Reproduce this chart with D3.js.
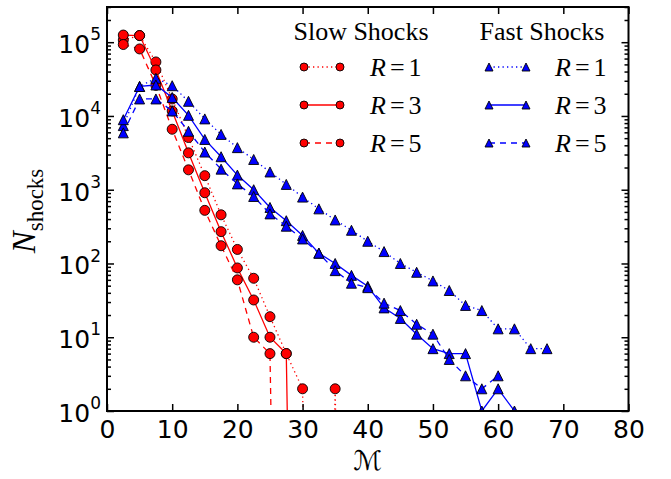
<!DOCTYPE html>
<html><head><meta charset="utf-8">
<script src="https://cdn.jsdelivr.net/npm/d3@7"></script>
<style>body{margin:0;background:#fff}svg{display:block}</style>
</head><body>
<svg id="chart" width="671" height="479"></svg>
<script>
// Mach-number bin centres
const machBins = [2.5, 5, 7.5, 10, 12.5, 15, 17.5, 20, 22.5, 25, 27.5, 30, 32.5, 35, 37.5,
                  40, 42.5, 45, 47.5, 50, 52.5, 55, 57.5, 60, 62.5, 65, 67.5];

// Shock counts per bin (slow shocks)
const slowR1 = [107000, 123000, 54000, 17000, 5100, 1550, 457, 155, 63, 19, 6, 2, 0, 2, 0];
const slowR3 = [125000, 123000, 42000, 11700, 3160, 910, 270, 87, 32, 10, 6, 0];
const slowR5 = [93000, 81000, 26000, 6600, 1860, 525, 174, 60, 10, 6, 0];

// Shock counts per bin (fast shocks)
const fastR1 = [7400, 25100, 32400, 25700, 15800, 9120, 5620, 3720, 2570, 1740, 1180, 794, 550,
                389, 282, 200, 145, 100, 76, 58, 43, 27, 23, 13, 13, 7, 7];
const fastR3 = [8900, 25100, 26300, 17800, 10200, 4800, 2800, 1580, 1000, 575, 380, 240, 138,
                100, 69, 49, 25, 18, 11, 7, 6, 6, 1, 2, 1];
const fastR5 = [5900, 17000, 17000, 11700, 6200, 3240, 1900, 1200, 810, 470, 320, 215, 138,
                80, 54, 47, 29, 23, 15, 11, 5, 3, 2, 3];

// Axis ticks
const xTicks = [0, 10, 20, 30, 40, 50, 60, 70, 80];
const yTicks = [1, 10, 100, 1000, 10000, 100000];
const yExponents = ["0", "1", "2", "3", "4", "5"];

const legendTitles = ["Slow Shocks", "Fast Shocks"];
const legendValues = ["1", "3", "5"];

const series = [
  {vals: slowR1, color: "#ff0000", dash: "1.3,3.2", marker: "circle", R: "1"},
  {vals: slowR3, color: "#ff0000", dash: null,      marker: "circle", R: "3"},
  {vals: slowR5, color: "#ff0000", dash: "6,5",     marker: "circle", R: "5"},
  {vals: fastR1, color: "#0000ff", dash: "1.3,3.2", marker: "tri",    R: "1"},
  {vals: fastR3, color: "#0000ff", dash: null,      marker: "tri",    R: "3"},
  {vals: fastR5, color: "#0000ff", dash: "6,5",     marker: "tri",    R: "5"}
];

const L = 107, R = 628.5, T = 7, B = 411;
const svg = d3.select("#chart");
const x = d3.scaleLinear().domain([0, 80]).range([L, R]);
const y = d3.scaleLog().domain([1, 3e5]).range([B, T]);
const FLOOR = 1e-12; // empty bins fall off the bottom of the log axis

svg.append("defs").append("clipPath").attr("id", "plotclip")
  .append("rect").attr("x", L).attr("y", T).attr("width", R - L).attr("height", B - T);

function markerShape(g, kind, cx, cy, s, color) {
  if (kind === "circle") {
    g.append("circle").attr("cx", cx).attr("cy", cy).attr("r", s / 2)
      .attr("fill", color).attr("stroke", "#000").attr("stroke-width", 0.9);
  } else {
    const h = s / 2;
    g.append("path")
      .attr("d", `M${cx},${cy - h}L${cx + h},${cy + h}L${cx - h},${cy + h}Z`)
      .attr("fill", color).attr("stroke", "#000").attr("stroke-width", 0.9)
      .attr("stroke-linejoin", "miter");
  }
}

// data
const plot = svg.append("g").attr("clip-path", "url(#plotclip)");
const line = d3.line()
  .x((d, i) => x(machBins[i]))
  .y(d => y(Math.max(d, FLOOR)));

series.forEach(s => {
  const g = plot.append("g");
  g.append("path").datum(s.vals).attr("d", line)
    .attr("fill", "none").attr("stroke", s.color).attr("stroke-width", 1.3)
    .attr("stroke-dasharray", s.dash);
  s.vals.forEach((v, i) => {
    if (v > 0) markerShape(g, s.marker, x(machBins[i]), y(v), 10, s.color);
  });
});

// axes (ticks point inward, on all four sides)
const tickFont = "DejaVu Sans, sans-serif";
function styleAxis(g) {
  g.select(".domain").remove();
  g.selectAll(".tick line").attr("stroke", "#000").attr("stroke-width", 1.5);
}
svg.append("g").attr("transform", `translate(0,${B})`)
  .call(d3.axisBottom(x).tickValues(xTicks).tickSizeInner(-7).tickSizeOuter(0).tickPadding(9))
  .call(styleAxis)
  .call(g => g.selectAll(".tick text").attr("font-family", tickFont).attr("font-size", 25)
    .attr("fill", "#000").attr("dy", "0.71em"));
svg.append("g").attr("transform", `translate(0,${T})`)
  .call(d3.axisTop(x).tickValues(xTicks).tickSizeInner(-7).tickSizeOuter(0).tickFormat(""))
  .call(styleAxis);

const minorY = [];
yTicks.forEach(t => { for (let k = 2; k <= 9; k++) if (t * k <= 3e5) minorY.push(t * k); });

const leftAx = svg.append("g").attr("transform", `translate(${L},0)`)
  .call(d3.axisLeft(y).tickValues(yTicks).tickSizeInner(-7).tickSizeOuter(0).tickPadding(6).tickFormat(""))
  .call(styleAxis);
leftAx.selectAll(".tick text").each(function(d, i) {
  const t = d3.select(this).attr("font-family", tickFont).attr("font-size", 25)
    .attr("fill", "#000").attr("dy", "0.42em");
  t.append("tspan").text("10");
  t.append("tspan").attr("font-size", 17).attr("dy", "-0.75em").text(yExponents[i]);
});
svg.append("g").attr("transform", `translate(${L},0)`)
  .call(d3.axisLeft(y).tickValues(minorY).tickSizeInner(-4).tickSizeOuter(0).tickFormat(""))
  .call(styleAxis);
svg.append("g").attr("transform", `translate(${R},0)`)
  .call(d3.axisRight(y).tickValues(yTicks).tickSizeInner(-7).tickSizeOuter(0).tickFormat(""))
  .call(styleAxis);
svg.append("g").attr("transform", `translate(${R},0)`)
  .call(d3.axisRight(y).tickValues(minorY).tickSizeInner(-4).tickSizeOuter(0).tickFormat(""))
  .call(styleAxis);

// frame
svg.append("rect").attr("x", L).attr("y", T).attr("width", R - L).attr("height", B - T)
  .attr("fill", "none").attr("stroke", "#000").attr("stroke-width", 2);

// axis titles
const serif = "Liberation Serif, DejaVu Serif, serif";
const yl = svg.append("text").attr("transform", "translate(35,211) rotate(-90)")
  .attr("text-anchor", "middle").attr("font-family", serif).attr("fill", "#000");
yl.append("tspan").attr("font-size", 33).attr("font-style", "italic").text("N");
yl.append("tspan").attr("font-size", 23).attr("dy", 8).text("shocks");

svg.append("text").attr("x", (L + R) / 2).attr("y", 470).attr("text-anchor", "middle")
  .attr("font-family", "DejaVu Serif, DejaVu Sans, serif").attr("font-size", 27)
  .attr("fill", "#000").text("\u2133");

// legend
const leg = svg.append("g");
const cols = [
  {title: legendTitles[0], cx: 361, m1: 304, m2: 340, lx: 370, items: series.slice(0, 3)},
  {title: legendTitles[1], cx: 542, m1: 489, m2: 526, lx: 555, items: series.slice(3, 6)}
];
const rowsY = [67, 105, 143];
cols.forEach(c => {
  leg.append("text").attr("x", c.cx).attr("y", 40).attr("text-anchor", "middle")
    .attr("font-family", serif).attr("font-size", 26).attr("fill", "#000").text(c.title);
  c.items.forEach((s, i) => {
    const ry = rowsY[i];
    leg.append("line").attr("x1", c.m1).attr("x2", c.m2).attr("y1", ry).attr("y2", ry)
      .attr("stroke", s.color).attr("stroke-width", 1.3).attr("stroke-dasharray", s.dash);
    markerShape(leg, s.marker, c.m1, ry, 8, s.color);
    markerShape(leg, s.marker, c.m2, ry, 8, s.color);
    const t = leg.append("text").attr("x", c.lx).attr("y", ry + 9)
      .attr("font-family", serif).attr("font-size", 26).attr("fill", "#000");
    t.append("tspan").attr("font-style", "italic").text("R");
    t.append("tspan").attr("dx", 4).text("=");
    t.append("tspan").attr("dx", 4).text(legendValues[i]);
  });
});
</script>
</body></html>
